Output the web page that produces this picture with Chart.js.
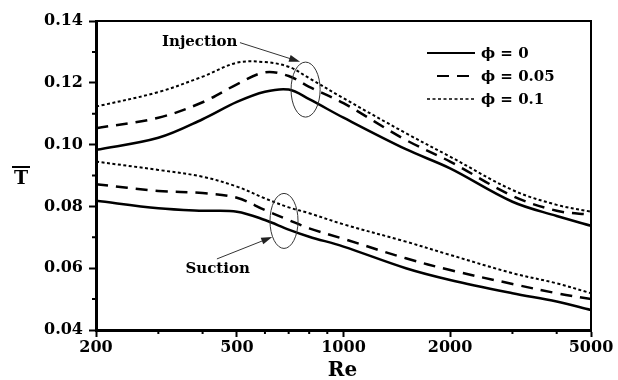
<!DOCTYPE html>
<html lang="en">
<head>
    <meta charset="UTF-8">
    <title>T vs Re</title>
    <style>
        body {
            margin: 0;
            background-color: #ffffff;
        }
        #chartContainer {
            width: 618px;
            height: 380px;
        }
    </style>
</head>
<body>
    <div id="chartContainer">
        <canvas id="tChart"></canvas>
    </div>

    <script src="https://cdn.jsdelivr.net/npm/chart.js@4.4.3/dist/chart.umd.min.js"></script>

    <script>
        // Re values sampled along the curves
        const reValues = [200, 300, 400, 500, 600, 700, 800, 1000, 1500, 2000, 3000, 4000, 5000];

        // injection branch
        const injPhi0   = [0.0983, 0.1022, 0.1082, 0.1138, 0.1171, 0.1178, 0.1147, 0.1087, 0.0985, 0.0923, 0.0815, 0.0769, 0.0737];
        const injPhi005 = [0.1053, 0.1087, 0.1137, 0.1195, 0.1234, 0.1222, 0.1187, 0.1134, 0.1015, 0.0945, 0.0834, 0.0786, 0.0773];
        const injPhi01  = [0.1123, 0.1170, 0.1220, 0.1265, 0.1267, 0.1252, 0.1215, 0.1150, 0.1037, 0.0961, 0.0853, 0.0805, 0.0783];

        // suction branch
        const sucPhi0   = [0.0818, 0.0794, 0.0786, 0.0783, 0.0756, 0.0725, 0.0702, 0.0670, 0.0600, 0.0562, 0.0519, 0.0492, 0.0465];
        const sucPhi005 = [0.0872, 0.0850, 0.0843, 0.0828, 0.0788, 0.0756, 0.0729, 0.0695, 0.0632, 0.0594, 0.0549, 0.0519, 0.0500];
        const sucPhi01  = [0.0945, 0.0918, 0.0896, 0.0864, 0.0826, 0.0797, 0.0778, 0.0742, 0.0686, 0.0643, 0.0584, 0.0551, 0.0519];

        const legendLabels = ['\u03d5 = 0', '\u03d5 = 0.05', '\u03d5 = 0.1'];

        // axis ticks
        const xMajorTicks = [200, 500, 1000, 2000, 5000];
        const xMinorTicks = [300, 400, 600, 700, 800, 900, 3000, 4000];
        const yMajorTicks = [0.04, 0.06, 0.08, 0.10, 0.12, 0.14];
        const yMinorTicks = [0.05, 0.07, 0.09, 0.11, 0.13];

        const serif = 'DejaVu Serif';

        const styles = [
            { borderDash: [], borderWidth: 2.5 },
            { borderDash: [12, 8], borderWidth: 2.5 },
            { borderDash: [3, 2.5], borderWidth: 2 }
        ];

        function series(values, style) {
            return {
                data: reValues.map((re, i) => ({ x: re, y: values[i] })),
                borderColor: '#000',
                borderWidth: style.borderWidth,
                borderDash: style.borderDash,
                pointRadius: 0,
                fill: false,
                tension: 0.35
            };
        }

        const datasets = [
            series(injPhi0, styles[0]),
            series(injPhi005, styles[1]),
            series(injPhi01, styles[2]),
            series(sucPhi0, styles[0]),
            series(sucPhi005, styles[1]),
            series(sucPhi01, styles[2])
        ];

        function arrow(ctx, x1, y1, x2, y2) {
            const ang = Math.atan2(y2 - y1, x2 - x1);
            ctx.beginPath();
            ctx.moveTo(x1, y1);
            ctx.lineTo(x2 - 8 * Math.cos(ang), y2 - 8 * Math.sin(ang));
            ctx.stroke();
            ctx.beginPath();
            ctx.moveTo(x2, y2);
            ctx.lineTo(x2 - 11 * Math.cos(ang) + 3.5 * Math.sin(ang), y2 - 11 * Math.sin(ang) - 3.5 * Math.cos(ang));
            ctx.lineTo(x2 - 11 * Math.cos(ang) - 3.5 * Math.sin(ang), y2 - 11 * Math.sin(ang) + 3.5 * Math.cos(ang));
            ctx.closePath();
            ctx.fill();
        }

        // frame, minor ticks, legend, notes and axis titles
        const decorations = {
            id: 'decorations',
            afterDatasetsDraw(chart) {
                const ctx = chart.ctx;
                const a = chart.chartArea;
                const xs = chart.scales.x;
                const ys = chart.scales.y;
                ctx.save();

                // top/right frame
                ctx.strokeStyle = '#000';
                ctx.lineWidth = 2;
                ctx.beginPath();
                ctx.moveTo(a.left, a.top);
                ctx.lineTo(a.right, a.top);
                ctx.lineTo(a.right, a.bottom);
                ctx.stroke();

                // minor ticks
                ctx.lineWidth = 2;
                ctx.beginPath();
                xMinorTicks.forEach(v => {
                    const px = xs.getPixelForValue(v);
                    ctx.moveTo(px, a.bottom);
                    ctx.lineTo(px, a.bottom + 4);
                });
                yMinorTicks.forEach(v => {
                    const py = ys.getPixelForValue(v);
                    ctx.moveTo(a.left, py);
                    ctx.lineTo(a.left - 4, py);
                });
                ctx.stroke();

                // legend
                ctx.font = 'bold 15px "' + serif + '"';
                ctx.textBaseline = 'middle';
                ctx.textAlign = 'left';
                ctx.fillStyle = '#000';
                const rows = [a.top + 32, a.top + 55, a.top + 78];
                const sx = [a.left + 331, a.left + 341, a.left + 331];
                rows.forEach((ry, i) => {
                    ctx.setLineDash(styles[i].borderDash);
                    ctx.lineWidth = i === 2 ? 1.6 : 2.2;
                    ctx.beginPath();
                    ctx.moveTo(sx[i], ry);
                    ctx.lineTo(a.left + 379, ry);
                    ctx.stroke();
                    ctx.setLineDash([]);
                    ctx.fillText(legendLabels[i], a.left + 385, ry + 1);
                });

                // ellipses around the curve groups
                ctx.strokeStyle = '#333';
                ctx.fillStyle = '#222';
                ctx.lineWidth = 1;
                const ellipses = [
                    { re1: 711, re2: 859, v1: 0.1267, v2: 0.1089 },
                    { re1: 620, re2: 744, v1: 0.0842, v2: 0.0664 }
                ];
                ellipses.forEach(e => {
                    const x1 = xs.getPixelForValue(e.re1), x2 = xs.getPixelForValue(e.re2);
                    const y1 = ys.getPixelForValue(e.v1), y2 = ys.getPixelForValue(e.v2);
                    ctx.beginPath();
                    ctx.ellipse((x1 + x2) / 2, (y1 + y2) / 2, (x2 - x1) / 2, (y2 - y1) / 2, 0, 0, Math.PI * 2);
                    ctx.stroke();
                });

                // arrows
                arrow(ctx, xs.getPixelForValue(510), ys.getPixelForValue(0.1330),
                    xs.getPixelForValue(754), ys.getPixelForValue(0.1268));
                arrow(ctx, xs.getPixelForValue(439), ys.getPixelForValue(0.0630),
                    xs.getPixelForValue(629), ys.getPixelForValue(0.0701));

                // notes
                ctx.fillStyle = '#000';
                ctx.font = 'bold 15px "' + serif + '"';
                ctx.textAlign = 'right';
                ctx.fillText('Injection', xs.getPixelForValue(502), ys.getPixelForValue(0.1332));
                ctx.textAlign = 'center';
                ctx.fillText('Suction', xs.getPixelForValue(441), ys.getPixelForValue(0.0596));

                // axis titles
                ctx.font = 'bold 20px "' + serif + '"';
                ctx.fillText('Re', (a.left + a.right) / 2 - 1, 371);
                ctx.font = 'bold 19px "' + serif + '"';
                ctx.fillText('T', 21, 179);
                ctx.lineWidth = 2;
                ctx.strokeStyle = '#000';
                ctx.beginPath();
                ctx.moveTo(12, 167);
                ctx.lineTo(30, 167);
                ctx.stroke();

                ctx.restore();
            }
        };

        const tickFont = { family: serif, weight: 'bold', size: 16 };

        const config = {
            type: 'line',
            data: { datasets: datasets },
            options: {
                responsive: true,
                maintainAspectRatio: false,
                animation: false,
                layout: {
                    padding: { top: 21, right: 27, left: 0, bottom: 0 }
                },
                scales: {
                    x: {
                        type: 'logarithmic',
                        min: 200,
                        max: 5000,
                        afterBuildTicks: (s) => {
                            s.ticks = xMajorTicks.map(v => ({ value: v }));
                        },
                        afterFit: (s) => { s.height = 50; },
                        ticks: {
                            font: tickFont,
                            color: '#000',
                            padding: 1,
                            maxRotation: 0,
                            autoSkip: false,
                            callback: (v) => String(v)
                        },
                        grid: {
                            drawOnChartArea: false,
                            drawTicks: true,
                            tickLength: 7,
                            tickWidth: 2,
                            tickColor: '#000'
                        },
                        border: { display: true, width: 3, color: '#000' }
                    },
                    y: {
                        type: 'linear',
                        min: 0.04,
                        max: 0.14,
                        afterBuildTicks: (s) => {
                            s.ticks = yMajorTicks.map(v => ({ value: v }));
                        },
                        afterFit: (s) => { s.width = 96; },
                        ticks: {
                            font: tickFont,
                            color: '#000',
                            padding: 6,
                            callback: (v) => Number(v).toFixed(2)
                        },
                        grid: {
                            drawOnChartArea: false,
                            drawTicks: true,
                            tickLength: 7,
                            tickWidth: 2,
                            tickColor: '#000'
                        },
                        border: { display: true, width: 3, color: '#000' }
                    }
                },
                plugins: {
                    legend: { display: false },
                    tooltip: { enabled: false }
                }
            },
            plugins: [decorations]
        };

        const ctx = document.getElementById('tChart')?.getContext('2d');
        if (ctx) {
            try {
                new Chart(ctx, config);
            } catch (error) {
                console.error('chart init failed:', error);
            }
        }
    </script>
</body>
</html>
